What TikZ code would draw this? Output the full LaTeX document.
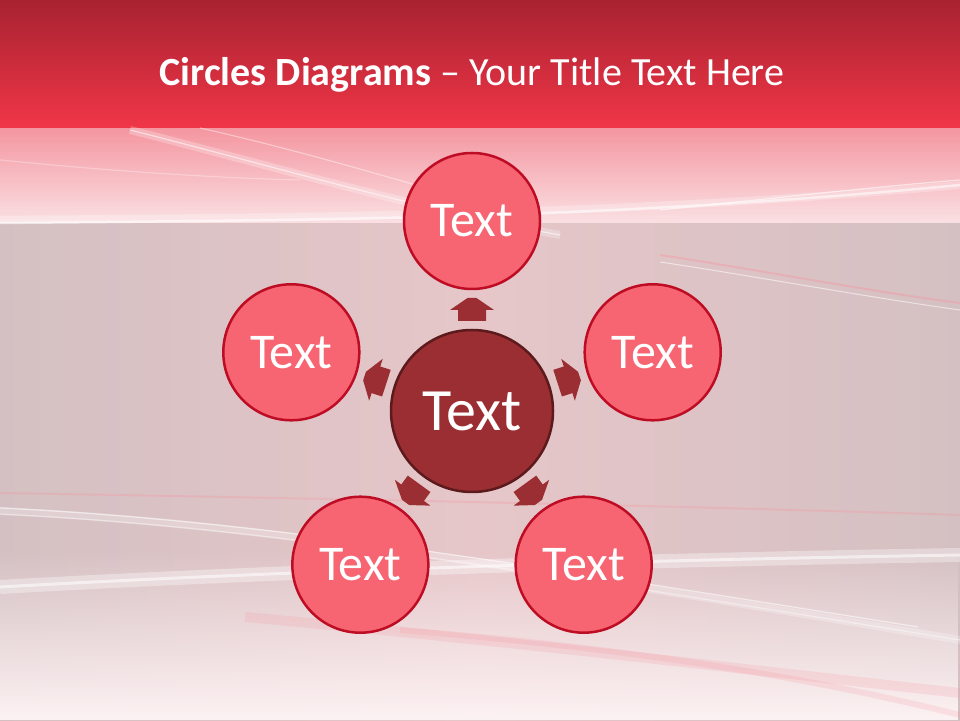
\documentclass[tikz,border=0pt]{standalone}
\usepackage{fontspec}
\setmainfont{Carlito}
\usetikzlibrary{calc,fadings}

\definecolor{headtop}{RGB}{168,34,48}
\definecolor{headbot}{RGB}{240,54,72}
\definecolor{bandpink}{RGB}{244,150,160}
\definecolor{bandwhite}{RGB}{250,224,227}
\definecolor{bodygray}{RGB}{212,192,194}
\definecolor{bodypink}{RGB}{230,198,201}
\definecolor{bottomwhite}{RGB}{253,242,243}
\definecolor{wavepink}{RGB}{245,150,160}
\definecolor{petalfill}{RGB}{247,101,114}
\definecolor{petalline}{RGB}{190,12,36}
\definecolor{hubfill}{RGB}{155,46,50}
\definecolor{hubline}{RGB}{92,26,28}

\tikzfading[name=riseout, top color=transparent!100, bottom color=transparent!0]

\begin{document}
\begin{tikzpicture}[x=1pt,y=1pt]
        \tikzset{
    petal/.style={circle, draw=petalline, line width=2.5pt, fill=petalfill, minimum size=136pt, inner sep=0pt, text=white, font=\fontsize{50}{50}\selectfont},
    hubstyle/.style={circle, draw=hubline, line width=2.5pt, fill=hubfill, minimum size=162pt, inner sep=0pt, text=white, font=\fontsize{60}{60}\selectfont},
    flow/.style={fill=hubfill},
    glow/.style={white, line width=1.2pt, opacity=0.55},
    haze/.style={white, line width=8pt, opacity=0.25},
    pinkglow/.style={wavepink, line width=2pt, opacity=0.4},
        }
        \useasboundingbox (0,0) rectangle (960,720);

        % Draw the background first.
        \shade[left color=bodygray, right color=bodygray, middle color=bodypink] (0,0) rectangle (960,497);
        \fill[bottomwhite, path fading=riseout] (0,0) rectangle (960,170);
        \shade[top color=bandpink, bottom color=bandwhite] (0,497) rectangle (960,592);
        \shade[top color=headtop, bottom color=headbot] (0,592) rectangle (960,720);

        % Then the waves on top of it.
        \draw[haze] (0,500) .. controls (300,503) and (600,503) .. (960,535);
        \draw[glow, line width=2.5pt] (0,497) .. controls (300,500) and (600,500) .. (960,535);
        \draw[haze] (130,590) .. controls (250,560) and (420,510) .. (560,485);
        \draw[glow] (130,590) .. controls (250,560) and (420,510) .. (560,485);
        \draw[glow, opacity=0.4] (200,592) .. controls (320,565) and (430,530) .. (520,505);
        \draw[glow, opacity=0.3] (0,560) .. controls (120,548) and (220,542) .. (300,540);
        \draw[glow] (660,510) .. controls (760,520) and (860,532) .. (960,540);
        \draw[pinkglow] (660,465) .. controls (760,450) and (860,430) .. (960,417);
        \draw[glow, line width=1pt] (660,458) .. controls (760,443) and (860,424) .. (960,410);
        \draw[pinkglow, opacity=0.3] (0,227) .. controls (300,222) and (650,215) .. (960,205);
        \draw[haze] (0,209) .. controls (250,197) and (500,157) .. (960,80);
        \draw[glow] (0,212) .. controls (250,200) and (500,160) .. (918,93);
        \draw[glow, opacity=0.4] (0,206) .. controls (250,194) and (500,154) .. (960,80);
        \draw[haze, line width=14pt, opacity=0.35] (0,133) .. controls (300,150) and (650,160) .. (960,165);
        \draw[glow, line width=3pt] (0,133) .. controls (300,150) and (650,160) .. (960,165);
        \draw[pinkglow, line width=10pt, opacity=0.2] (245,103) .. controls (500,80) and (750,50) .. (960,27);
        \draw[pinkglow, line width=6pt, opacity=0.2] (400,90) .. controls (650,70) and (820,40) .. (960,5);

        % The circles.
        \node[hubstyle] (hub) at (472,309) {Text};
        \foreach \a/\n in {90/top,18/right,-54/lowright,-126/lowleft,162/left}
          \node[petal] (\n) at ($(hub)+(\a:190)$) {Text};

        % The arrows between the hub and each circle.
        \foreach \a in {90,18,-54,-126,162} {
          \begin{scope}[shift={(hub)}, rotate=\a]
            \fill[flow] (90,-14) -- (101,-14) -- (101,-22) -- (113,-4.5) -- (113,4.5)
              -- (101,22) -- (101,14) -- (90,14) -- cycle;
          \end{scope}
        }

        % Title last.
        \node[text=white, font=\fontsize{40}{46}\selectfont] (title) at (472,645)
          {\textbf{Circles Diagrams} – Your Title Text Here};
      \end{tikzpicture}
\end{document}
